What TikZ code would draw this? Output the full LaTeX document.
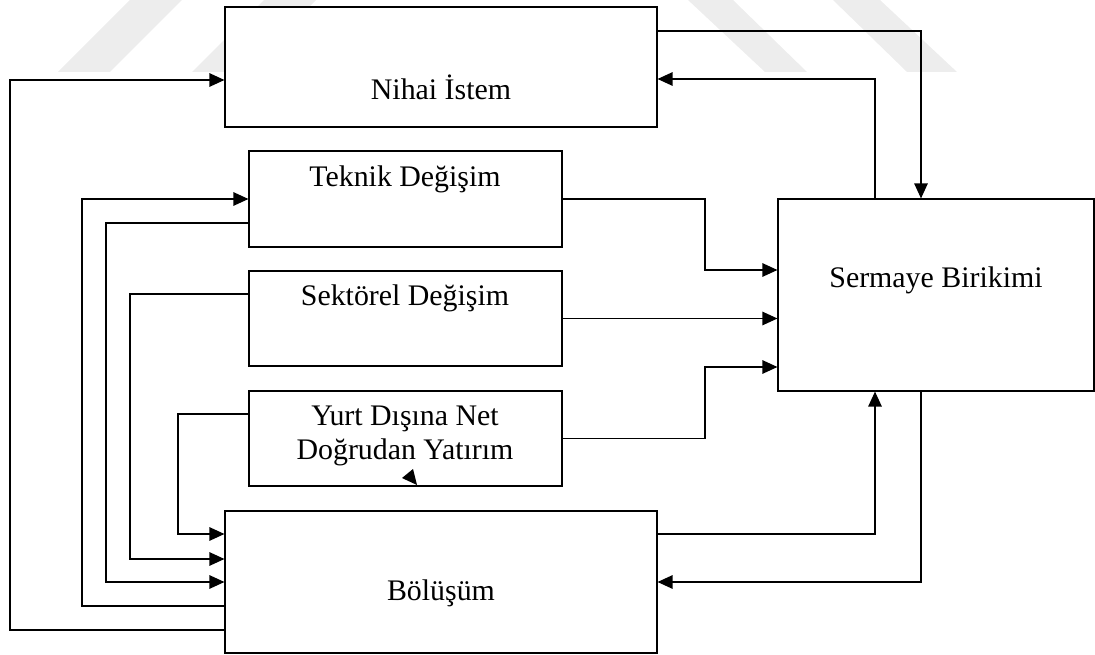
\documentclass[tikz,border=0pt]{standalone}
\usepackage{fontspec}
\setmainfont{Liberation Serif}
\usetikzlibrary{arrows.meta}

\tikzset{
  box/.style={draw, fill=white, inner sep=0pt},
  lbl/.style={font=\fontsize{17}{19.4}\selectfont, align=center, inner sep=0pt},
  wm/.style={fill=black!7},
}

\begin{document}
\begin{tikzpicture}[x=0.02cm, y=-0.02cm, >={Triangle[length=0.3cm,width=0.27cm]}, line width=0.7pt]
        \useasboundingbox (0,0) rectangle (1095,655);
        % watermark
        \fill[wm] (130,0) -- (182,0) -- (110,72) -- (58,72) -- cycle;
        \fill[wm] (264,0) -- (316,0) -- (244,72) -- (192,72) -- cycle;
        \fill[wm] (688,0) -- (733,0) -- (807,72) -- (765,72) -- cycle;
        \fill[wm] (833,0) -- (880,0) -- (957,72) -- (907,72) -- cycle;
        % boxes
        \node[box, minimum width=8.64cm, minimum height=2.4cm] (nihai) at (441,67) {};
        \node[box, minimum width=6.26cm, minimum height=1.92cm] (teknik) at (405.5,199) {};
        \node[box, minimum width=6.26cm, minimum height=1.9cm] (sektorel) at (405.5,318.5) {};
        \node[box, minimum width=6.26cm, minimum height=1.9cm] (yurt) at (405.5,438.5) {};
        \node[box, minimum width=8.64cm, minimum height=2.84cm] (bolusum) at (441,582) {};
        \node[box, minimum width=6.32cm, minimum height=3.84cm] (sermaye) at (936,295) {};
        \node[lbl] (nihaitxt) at (441,87) {Nihai İstem};
        \node[lbl] (teknitxt) at (405,179) {Teknik Değişim};
        \node[lbl] (sektortxt) at (405,298) {Sektörel Değişim};
        \node[lbl] (yurttxt) at (405,436) {Yurt Dışına Net\\Doğrudan Yatırım};
        \node[lbl] (bolusumtxt) at (441,593) {Bölüşüm};
        \node[lbl] (sermayetxt) at (936,280) {Sermaye Birikimi};
        % left side loops
        \draw[->] (bolusum.west |- 0,630) -| (10,80) -- (nihai.west |- 0,80);
        \draw[->] (bolusum.west |- 0,606) -| (82,199) -- (teknik.west);
        \draw[->] (teknik.west |- 0,223) -| (106,582) -- (bolusum.west |- 0,582);
        \draw[->] (sektorel.west |- 0,294) -| (130,559) -- (bolusum.west |- 0,559);
        \draw[->] (yurt.west |- 0,414) -| (178,534) -- (bolusum.west |- 0,534);
        % into sermaye
        \draw[->] (teknik.east) -| (705,270) -- (sermaye.west |- 0,270);
        \draw[->] (sektorel.east) -- (sektorel.east -| sermaye.west);
        \draw[->] (yurt.east) -| (705,367) -- (sermaye.west |- 0,367);
        % right side loops
        \draw[->] (nihai.east |- 0,31) -| (921,0 |- sermaye.north);
        \draw[->] (875,0 |- sermaye.north) |- (nihai.east |- 0,79);
        \draw[->] (bolusum.east |- 0,534) -| (875,0 |- sermaye.south);
        \draw[->] (921,0 |- sermaye.south) |- (bolusum.east |- 0,582);
        % stray tip
        \fill (402,478) -- (413,469) -- (417,485) -- cycle;
\end{tikzpicture}
\end{document}
